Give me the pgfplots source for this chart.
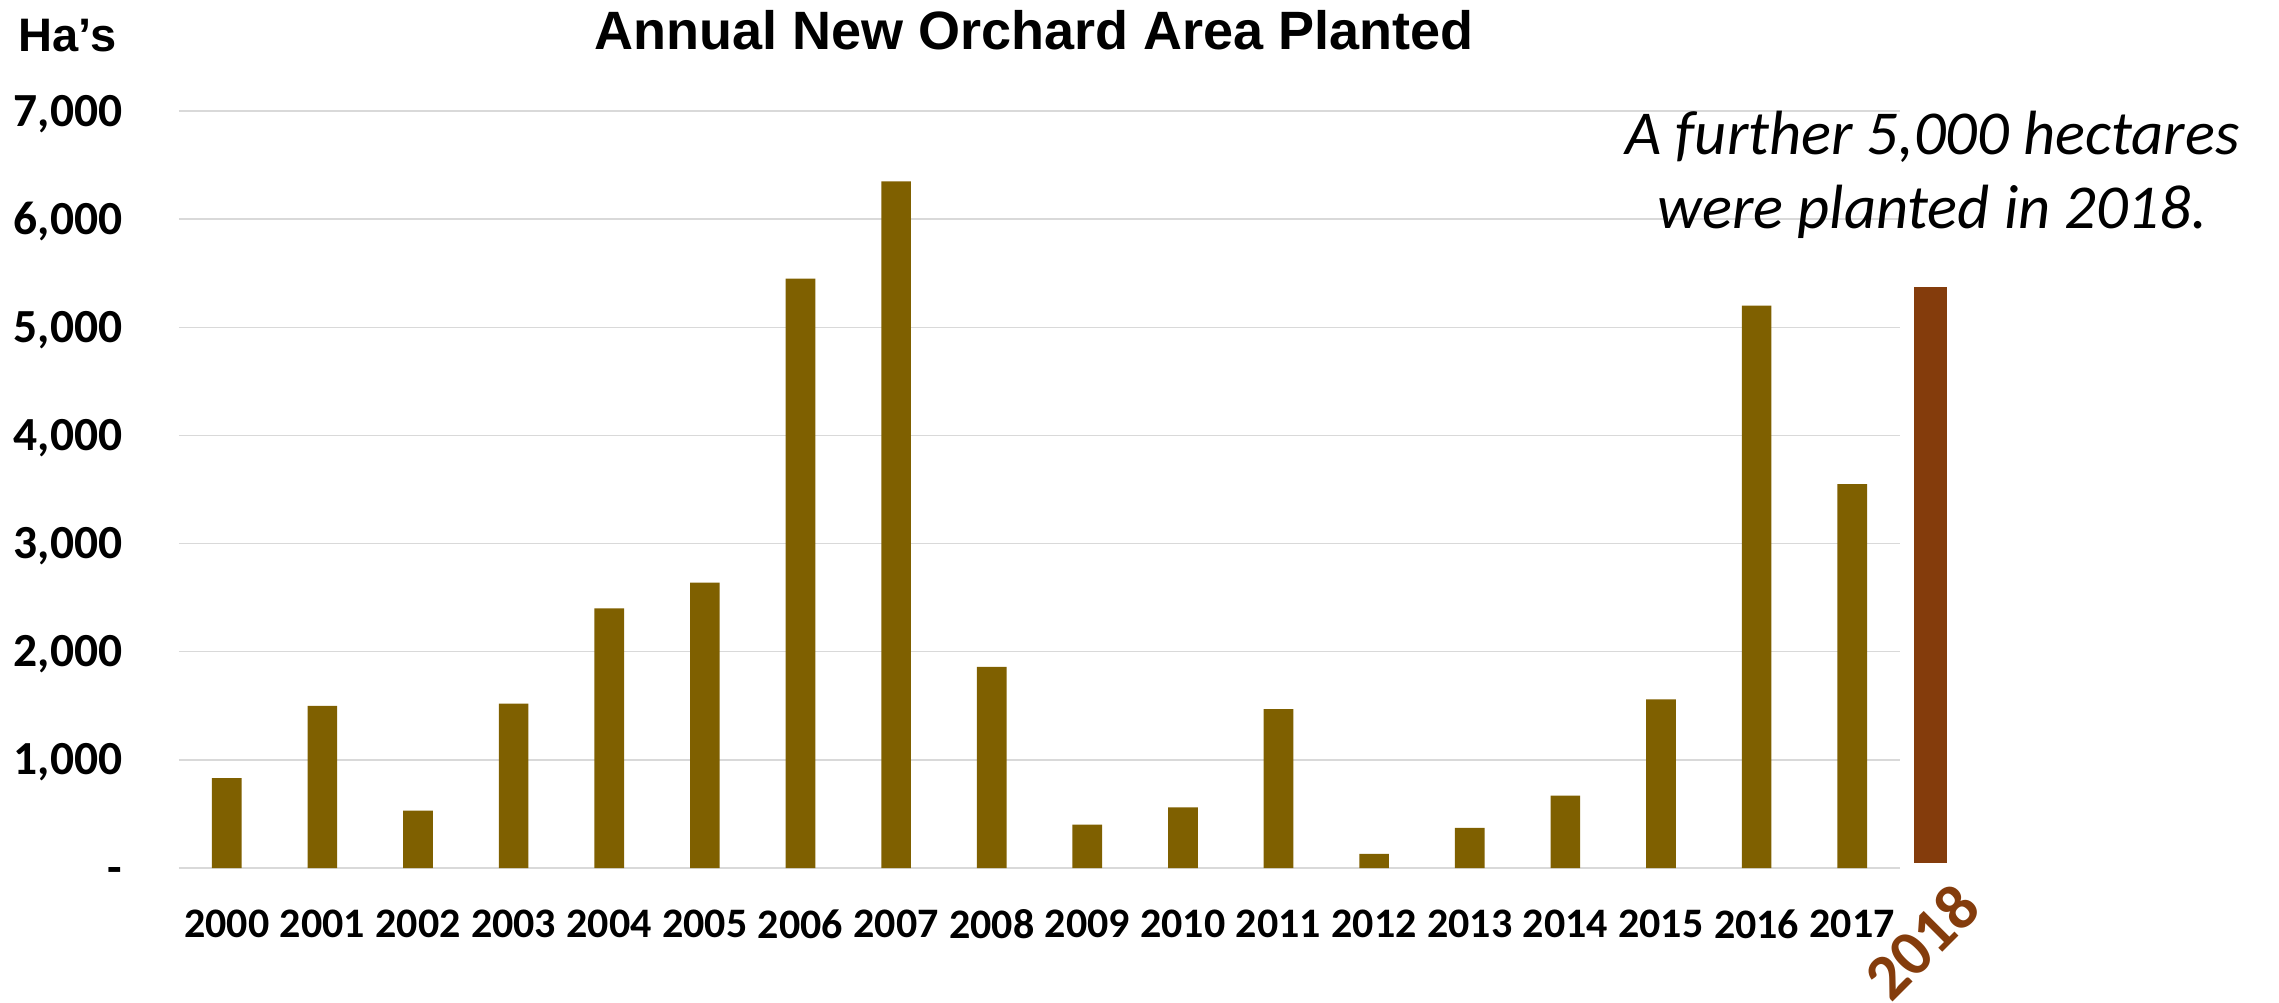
\documentclass[border=0pt]{standalone}
\usepackage{fontspec}
\setmainfont{Carlito}
\newfontfamily\arialfont{Liberation Sans}
\usepackage{pgfplots}
\pgfplotsset{compat=1.18}
\definecolor{olivebar}{HTML}{7F6000}
\definecolor{rust}{HTML}{843C0C}
\definecolor{gridgray}{HTML}{D9D9D9}

\begin{document}
\begin{tikzpicture}
\begin{axis}[
  at={(0pt,0pt)}, anchor=south west,
  scale only axis, width=516.3pt, height=227.1pt,
  xmin=-0.5, xmax=17.5, ymin=0, ymax=7000,
  clip=false,
  axis line style={draw=none},
  ymajorgrids, grid style={gridgray, line width=0.45pt},
  major tick length=0pt,
  xtick={0,1,...,17},
  xticklabels={2000,2001,2002,2003,2004,2005,2006,2007,2008,2009,2010,2011,2012,2013,2014,2015,2016,2017},
  ytick={0,1000,2000,3000,4000,5000,6000,7000},
  yticklabels={{-\hspace{6.3pt}},{1,000},{2,000},{3,000},{4,000},{5,000},{6,000},{7,000}},
  xticklabel style={font=\bfseries\fontsize{12.6pt}{14pt}\selectfont, anchor=north, inner sep=0pt, yshift=-12.3pt},
  yticklabel style={font=\bfseries\fontsize{14.25pt}{16pt}\selectfont, anchor=base east, inner sep=0pt, xshift=-16.8pt, yshift=-4.5pt},
]
\addplot[ybar, bar width=8.9pt, bar shift=0pt, fill=olivebar, draw=none] coordinates {
  (0,830) (1,1500) (2,530) (3,1520) (4,2400) (5,2640) (6,5450) (7,6350) (8,1860)
  (9,400) (10,560) (11,1470) (12,130) (13,370) (14,670) (15,1560) (16,5200) (17,3550)};
% 2018 bar (drawn beside the plot area, slightly above the baseline)
\addplot[fill=rust, draw=none, mark=none] coordinates {
  (17.647,45) (17.993,45) (17.993,5370) (17.647,5370)} -- cycle;
\end{axis}

\node[anchor=base, inner sep=0pt, font=\arialfont\bfseries\fontsize{16.2pt}{18pt}\selectfont] at (256.5pt,245.4pt) {Annual New Orchard Area Planted};
\node[anchor=base west, inner sep=0pt, font=\arialfont\bfseries\fontsize{14.1pt}{16pt}\selectfont] at (-48.3pt,244.8pt) {Ha’s};
\node[anchor=base, inner sep=0pt, font=\itshape\fontsize{18.75pt}{22pt}\selectfont] at (526pt,213.9pt) {A further 5,000 hectares};
\node[anchor=base, inner sep=0pt, font=\itshape\fontsize{18.75pt}{22pt}\selectfont] at (526pt,192pt) {were planted in 2018.};
\node[rotate=45, inner sep=0pt, text=rust, font=\bfseries\fontsize{19.4pt}{22pt}\selectfont] at (522.9pt,-22.2pt) {2018};

\pgfresetboundingbox
\useasboundingbox (-53.7pt,-40.2pt) rectangle (630pt,260.4pt);
\end{tikzpicture}
\end{document}
